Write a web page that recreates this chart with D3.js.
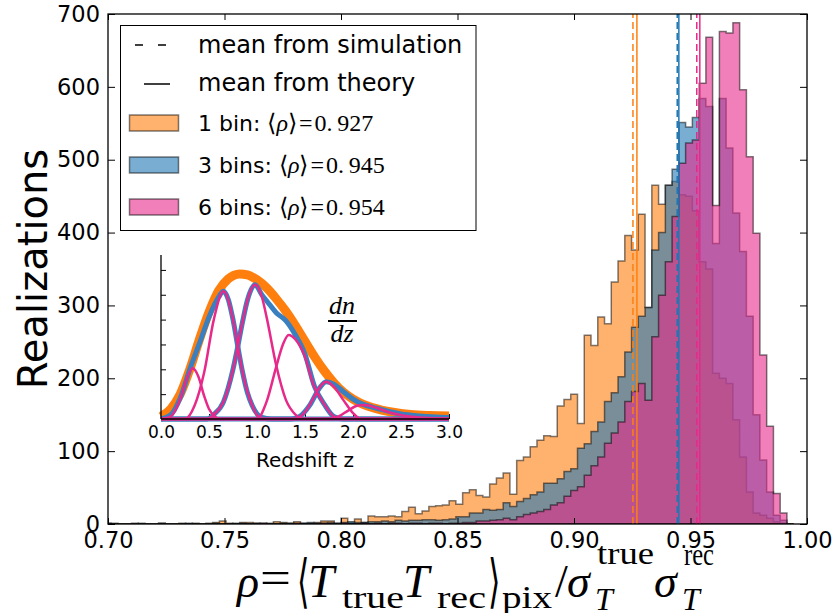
<!DOCTYPE html>
<html>
<head>
<meta charset="utf-8">
<script src="https://cdn.jsdelivr.net/npm/d3@7"></script>
<style>
  body { margin: 0; background: #fff; }
  svg { display: block; }
  text { font-family: "DejaVu Sans", sans-serif; }
  .math { font-family: "Liberation Serif", serif; }
</style>
</head>
<body>
<svg id="chart" width="837" height="613"></svg>
<script>
// histogram bins (same edges for the three runs)
const BIN_START = 0.6985;
const BIN_W = 0.0029;

const ONE_BIN = [
  1,1,0,0,1,0,0,0,1,0,  0,1,0,1,0,1,2,4,1,0,  2,2,1,1,0,3,2,1,3,1,
  1,2,4,4,1,8,2,7,2,11,  10,10,11,10,17,23,14,18,24,25,
  26,32,27,43,47,39,37,55,63,70,  41,87,92,106,115,121,120,162,171,178,
  138,259,245,284,275,332,361,396,376,425,  297,465,439,465,470,452,450,430,360,350,
  207,200,193,143,92,44,15,12,8,3,  1,0
];
const THREE_BINS = [
  1,0,0,0,0,1,0,0,1,0,  0,0,1,0,0,0,1,0,0,1,  1,0,1,0,1,0,1,1,0,1,
  2,1,1,2,1,2,3,2,2,3,  3,4,3,5,4,5,5,6,6,5,
  6,7,10,10,15,15,20,19,20,29,  24,31,35,40,44,56,56,62,72,76,
  104,110,127,140,168,180,202,236,270,285,  297,376,400,465,487,551,545,558,584,573,
  385,584,516,427,374,285,150,88,44,12,  5,0
];
const SIX_BINS = [
  0,0,0,0,0,0,0,0,0,0,  0,0,0,0,0,0,0,0,0,0,  0,0,0,1,0,0,0,0,1,0,
  0,0,1,0,0,1,0,0,1,0,  1,0,1,1,0,1,1,0,1,1,
  0,1,1,2,2,4,4,5,6,8,  6,10,13,15,17,20,26,29,38,46,
  51,67,80,92,111,125,140,168,182,193,  170,257,314,360,422,495,523,527,605,668,
  437,676,674,688,596,504,399,232,134,42,  15,0
];

const SERIES = [ONE_BIN, THREE_BINS, SIX_BINS];
const SERIES_LABELS = ["1 bin: ", "3 bins: ", "6 bins: "];
const MEAN_THEORY = [0.927, 0.945, 0.954];
const MEAN_SIM = [0.9253, 0.9443, 0.9527];
const THEORY_TEXT = ["0.\u2009927", "0.\u2009945", "0.\u2009954"];
const COLORS = ["#ff7f0e", "#1f77b4", "#e7298a"];

const X_TICKS = [0.70, 0.75, 0.80, 0.85, 0.90, 0.95, 1.00];
const Y_TICKS = [0, 100, 200, 300, 400, 500, 600, 700];

// inset: redshift distributions [z, dn/dz]
const Z_TICKS = [0.0, 0.5, 1.0, 1.5, 2.0, 2.5, 3.0];
const DNDZ_TICKS = [0, 0.5, 1.0, 1.5, 2.0, 2.5, 3.0];
const DNDZ_TOTAL = [[0,0.05],[0.1,0.2],[0.2,0.5],[0.3,1.0],[0.4,1.6],[0.5,2.15],[0.6,2.58],
  [0.7,2.82],[0.82,2.92],[0.9,2.9],[1.0,2.8],[1.1,2.64],[1.2,2.42],[1.3,2.17],[1.4,1.88],
  [1.5,1.56],[1.6,1.25],[1.7,0.97],[1.8,0.73],[1.9,0.54],[2.0,0.4],[2.1,0.3],[2.2,0.23],
  [2.3,0.18],[2.4,0.14],[2.5,0.11],[2.6,0.09],[2.8,0.07],[3.0,0.06]];
const DNDZ_3BINS = [
  [[0,0],[0.1,0.08],[0.2,0.42],[0.3,1.0],[0.4,1.52],[0.5,2.05],[0.6,2.45],[0.65,2.57],[0.7,2.41],
   [0.75,2.0],[0.8,1.46],[0.85,0.94],[0.9,0.53],[0.95,0.27],[1.05,0.03],[1.15,0],[3,0]],
  [[0,0],[0.48,0],[0.55,0.09],[0.65,0.34],[0.75,1.0],[0.8,1.46],[0.85,1.96],[0.9,2.39],[0.98,2.7],
   [1.05,2.5],[1.1,2.38],[1.2,2.14],[1.3,1.98],[1.4,1.69],[1.5,1.3],[1.6,0.65],[1.7,0.3],[1.8,0.05],[1.9,0],[3,0]],
  [[0,0],[1.35,0],[1.45,0.06],[1.55,0.28],[1.65,0.62],[1.72,0.75],[1.8,0.7],[1.9,0.55],[2.0,0.4],
   [2.1,0.3],[2.2,0.24],[2.3,0.19],[2.4,0.14],[2.5,0.1],[2.7,0.06],[3.0,0.03]]
];
const DNDZ_6BINS = [
  [[0,0],[0.1,0.05],[0.2,0.4],[0.27,0.82],[0.33,1.02],[0.39,0.85],[0.45,0.46],[0.5,0.2],[0.56,0.05],[0.62,0],[3,0]],
  [[0,0],[0.25,0],[0.35,0.27],[0.45,0.94],[0.55,2.0],[0.65,2.57],[0.75,2.0],[0.8,1.46],[0.85,0.94],[0.95,0.27],[1.05,0],[3,0]],
  [[0,0],[0.48,0],[0.55,0.09],[0.65,0.34],[0.75,0.99],[0.85,1.96],[0.9,2.39],[0.98,2.7],[1.05,2.46],
   [1.1,2.05],[1.2,1.08],[1.3,0.39],[1.4,0.09],[1.48,0],[3,0]],
  [[0,0],[1.0,0],[1.1,0.35],[1.2,1.05],[1.27,1.5],[1.33,1.69],[1.4,1.6],[1.49,1.3],[1.59,0.68],
   [1.7,0.3],[1.8,0.05],[1.9,0],[3,0]],
  [[0,0],[1.4,0],[1.5,0.14],[1.6,0.46],[1.66,0.66],[1.72,0.75],[1.8,0.65],[1.9,0.38],[2.0,0.12],[2.08,0],[3,0]],
  [[0,0],[1.75,0],[1.85,0.05],[1.95,0.17],[2.05,0.27],[2.12,0.28],[2.25,0.22],[2.4,0.12],[2.55,0.06],
   [2.7,0.03],[2.9,0.01],[3,0]]
];

const svg = d3.select("#chart");

// main axes
const x = d3.scaleLinear().domain([0.7, 1.0]).range([108, 807]);
const y = d3.scaleLinear().domain([0, 700]).range([524, 14]);

svg.append("clipPath").attr("id", "plotclip")
  .append("rect").attr("x", 108).attr("y", 14).attr("width", 699).attr("height", 510);

const plot = svg.append("g").attr("clip-path", "url(#plotclip)");

const area = d3.area()
  .x(d => x(d.e))
  .y0(y(0))
  .y1(d => y(d.c))
  .curve(d3.curveStepAfter);

SERIES.forEach((counts, s) => {
  let pts = counts.map((c, i) => ({ e: BIN_START + i * BIN_W, c: c }));
  pts.push({ e: BIN_START + counts.length * BIN_W, c: 0 });
  plot.append("path")
    .attr("d", area(pts))
    .attr("fill", COLORS[s]).attr("fill-opacity", 0.6)
    .attr("stroke", "#000").attr("stroke-opacity", 0.5).attr("stroke-width", 1.5);
});

// mean lines
MEAN_SIM.forEach((m, s) => {
  plot.append("line")
    .attr("x1", x(m)).attr("x2", x(m)).attr("y1", y(0)).attr("y2", y(700))
    .attr("stroke", COLORS[s]).attr("stroke-width", 1.5).attr("stroke-dasharray", "7,4");
});
MEAN_THEORY.forEach((m, s) => {
  plot.append("line")
    .attr("x1", x(m)).attr("x2", x(m)).attr("y1", y(0)).attr("y2", y(700))
    .attr("stroke", COLORS[s]).attr("stroke-width", 1.5);
});

// axes with inward ticks on all four sides
const fmt = d3.format(".2f");
let gx = svg.append("g").attr("transform", `translate(0,${y(0)})`)
  .call(d3.axisBottom(x).tickValues(X_TICKS).tickFormat(fmt).tickSize(-6).tickSizeOuter(0).tickPadding(8));
let gxTop = svg.append("g").attr("transform", `translate(0,${y(700)})`)
  .call(d3.axisTop(x).tickValues(X_TICKS).tickFormat("").tickSize(-6).tickSizeOuter(0));
let gy = svg.append("g").attr("transform", `translate(${x(0.7)},0)`)
  .call(d3.axisLeft(y).tickValues(Y_TICKS).tickSize(-7).tickSizeOuter(0).tickPadding(8));
let gyRight = svg.append("g").attr("transform", `translate(${x(1.0)},0)`)
  .call(d3.axisRight(y).tickValues(Y_TICKS).tickFormat("").tickSize(-7).tickSizeOuter(0));

[gx, gxTop, gy, gyRight].forEach(g => {
  g.select(".domain").remove();
  g.selectAll(".tick line").attr("stroke", "#000").attr("stroke-width", 1);
  g.selectAll("text").attr("font-size", 22.5).attr("font-family", "DejaVu Sans").attr("fill", "#000");
});

svg.append("rect").attr("x", 108).attr("y", 14).attr("width", 699).attr("height", 510)
  .attr("fill", "none").attr("stroke", "#000").attr("stroke-width", 1.3);

// axis labels
svg.append("text")
  .attr("transform", "translate(47,269) rotate(-90)")
  .attr("text-anchor", "middle").attr("font-size", 40)
  .text("Realizations");

// x label, piece by piece: rho = <T_true T_rec>_pix / sigma_T^true sigma_T^rec
const XLABEL_PIECES = [
  { t: "ρ", x: 237, y: 597, fs: 46, it: true },
  { t: "=", x: 260, y: 593, fs: 46, w: 31 },
  { t: "⟨", x: 297, y: 601, fs: 58, br: true },
  { t: "T", x: 308, y: 597, fs: 47, it: true },
  { t: "true", x: 342, y: 608, fs: 32, w: 62 },
  { t: "T", x: 403, y: 597, fs: 47, it: true },
  { t: "rec", x: 437, y: 608, fs: 32, w: 49 },
  { t: "⟩", x: 488, y: 601, fs: 58, br: true },
  { t: "pix", x: 502, y: 608, fs: 32, w: 50 },
  { t: "/", x: 555, y: 597, fs: 46 },
  { t: "σ", x: 567, y: 597, fs: 46, it: true },
  { t: "T", x: 595, y: 610, fs: 32, it: true },
  { t: "true", x: 597, y: 564, fs: 32, w: 57 },
  { t: "σ", x: 654, y: 597, fs: 46, it: true },
  { t: "T", x: 682, y: 610, fs: 32, it: true },
  { t: "rec", x: 684, y: 565, fs: 32, w: 30 }
];
const xl = svg.append("g");
XLABEL_PIECES.forEach(p => {
  let t;
  if (p.br) {
    t = xl.append("text")
      .attr("transform", `translate(${p.x},${p.y}) scale(0.55,1)`)
      .attr("font-family", "DejaVu Sans").attr("font-weight", 200);
  } else {
    t = xl.append("text").attr("class", "math").attr("x", p.x).attr("y", p.y);
  }
  t.attr("font-size", p.fs).text(p.t);
  if (p.it) t.attr("font-style", "italic");
  if (p.w) t.attr("textLength", p.w).attr("lengthAdjust", "spacingAndGlyphs");
});

// legend
const lg = svg.append("g");
lg.append("rect").attr("x", 120.5).attr("y", 25.5).attr("width", 355.5).attr("height", 205)
  .attr("fill", "#fff").attr("stroke", "#000").attr("stroke-width", 1);
lg.append("line").attr("x1", 135).attr("x2", 180).attr("y1", 45).attr("y2", 45)
  .attr("stroke", "#000").attr("stroke-width", 1.5).attr("stroke-dasharray", "8,15");
lg.append("text").attr("x", 198).attr("y", 53).attr("font-size", 24).text("mean from simulation");
lg.append("line").attr("x1", 144).attr("x2", 170).attr("y1", 84).attr("y2", 84)
  .attr("stroke", "#000").attr("stroke-width", 1.5);
lg.append("text").attr("x", 198).attr("y", 91).attr("font-size", 24).text("mean from theory");

SERIES_LABELS.forEach((lab, s) => {
  let cy = 123 + s * 42;
  lg.append("rect").attr("x", 129.5).attr("y", cy - 8).attr("width", 49).attr("height", 16)
    .attr("fill", COLORS[s]).attr("fill-opacity", 0.6)
    .attr("stroke", "#000").attr("stroke-opacity", 0.5).attr("stroke-width", 1.5);
  let t = lg.append("text").attr("x", 198).attr("y", cy + 8).attr("font-size", 22);
  t.append("tspan").text(lab);
  t.append("tspan").attr("font-family", "DejaVu Sans").attr("font-weight", 200).attr("font-size", 24).text("⟨");
  t.append("tspan").attr("class", "math").attr("font-style", "italic").attr("font-size", 24).text("ρ");
  t.append("tspan").attr("font-family", "DejaVu Sans").attr("font-weight", 200).attr("font-size", 24).text("⟩");
  t.append("tspan").attr("class", "math").attr("font-size", 24).attr("dx", 2).text("=");
  t.append("tspan").attr("class", "math").attr("font-size", 24).attr("dx", 2).text(THEORY_TEXT[s]);
});

// inset
const xi = d3.scaleLinear().domain([0, 3]).range([161, 449]);
const yi = d3.scaleLinear().domain([0, 3.3]).range([419, 255]);
const inset = svg.append("g");

let gxi = inset.append("g").attr("transform", `translate(0,${yi(0)})`)
  .call(d3.axisBottom(xi).tickValues(Z_TICKS).tickFormat(d3.format(".1f")).tickSize(-5).tickSizeOuter(0).tickPadding(7));
let gyi = inset.append("g").attr("transform", `translate(${xi(0)},0)`)
  .call(d3.axisLeft(yi).tickValues(DNDZ_TICKS).tickFormat("").tickSize(-5).tickSizeOuter(0));
[gxi, gyi].forEach(g => {
  g.select(".domain").remove();
  g.selectAll(".tick line").attr("stroke", "#000");
  g.selectAll("text").attr("font-size", 17).attr("font-family", "DejaVu Sans").attr("fill", "#000");
});

const zline = d3.line().x(d => xi(d[0])).y(d => yi(d[1])).curve(d3.curveMonotoneX);
inset.append("path").attr("d", zline(DNDZ_TOTAL)).attr("fill", "none")
  .attr("stroke", COLORS[0]).attr("stroke-width", 9);
DNDZ_3BINS.forEach(c => {
  inset.append("path").attr("d", zline(c)).attr("fill", "none")
    .attr("stroke", "#3a7fc0").attr("stroke-width", 5);
});
DNDZ_6BINS.forEach(c => {
  inset.append("path").attr("d", zline(c)).attr("fill", "none")
    .attr("stroke", COLORS[2]).attr("stroke-width", 2.5);
});

inset.append("line").attr("x1", xi(0)).attr("x2", xi(0)).attr("y1", yi(0)).attr("y2", yi(3.3))
  .attr("stroke", "#000").attr("stroke-width", 1.3);
inset.append("line").attr("x1", xi(0)).attr("x2", xi(3)).attr("y1", yi(0)).attr("y2", yi(0))
  .attr("stroke", "#000").attr("stroke-width", 1.3);

inset.append("text").attr("x", 305).attr("y", 467).attr("text-anchor", "middle")
  .attr("font-size", 20).text("Redshift z");

// dn/dz fraction
const frac = inset.append("g").attr("class", "math").attr("font-style", "italic").attr("font-size", 26);
frac.append("text").attr("x", 342).attr("y", 314).attr("text-anchor", "middle").attr("class", "math").text("dn");
frac.append("line").attr("x1", 328).attr("x2", 357).attr("y1", 321).attr("y2", 321)
  .attr("stroke", "#000").attr("stroke-width", 2);
frac.append("text").attr("x", 342).attr("y", 342).attr("text-anchor", "middle").attr("class", "math").text("dz");
</script>
</body>
</html>
